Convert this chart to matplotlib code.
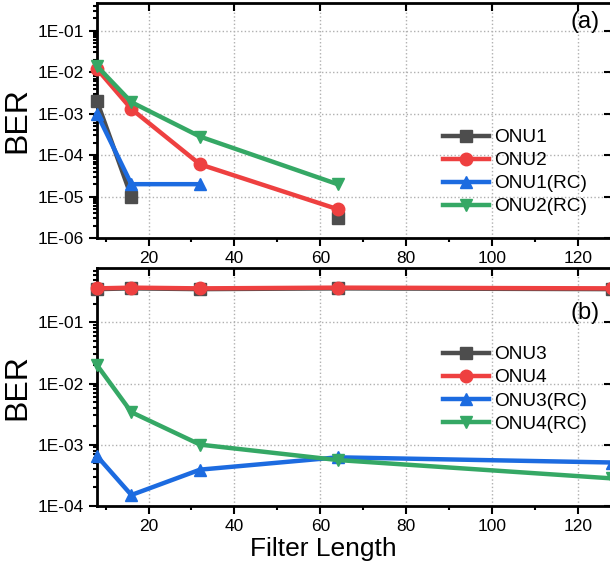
import numpy as np
import matplotlib.pyplot as plt
from matplotlib.ticker import FuncFormatter, LogLocator, MultipleLocator

plt.rcParams['font.family'] = ['Liberation Sans', 'DejaVu Sans']

filter_len = [8, 16, 32, 64, 128]

# panel (a)
onu1 = [2e-3, 1e-5, np.nan, 3e-6, np.nan]
onu2 = [1.2e-2, 1.3e-3, 6e-5, 5e-6, np.nan]
onu1_rc = [1e-3, 2e-5, 2e-5, np.nan, np.nan]
onu2_rc = [1.4e-2, 1.9e-3, 2.8e-4, 2e-5, np.nan]

# panel (b)
onu3 = [0.35, 0.36, 0.35, 0.36, 0.35]
onu4 = [0.36, 0.37, 0.36, 0.37, 0.36]
onu3_rc = [6.5e-4, 1.5e-4, 3.9e-4, 6.2e-4, 5.1e-4]
onu4_rc = [2e-2, 3.4e-3, 1e-3, 5.6e-4, 2.8e-4]

colors = ['#4d4d4d', '#ee4040', '#1c6be0', '#35a865']
markers = ['s', 'o', '^', 'v']

fig = plt.figure(figsize=(6.10, 5.67), dpi=100)
ax1 = fig.add_axes([0.159, 0.580, 0.845, 0.415])
ax2 = fig.add_axes([0.159, 0.108, 0.845, 0.419])


def sci(v, pos):
    e = int(round(np.log10(v)))
    return "1E-%02d" % (-e)


def style(ax, ymin, ymax):
    ax.set_yscale('log')
    ax.set_xlim(8, 128)
    ax.set_ylim(ymin, ymax)
    ax.xaxis.set_major_locator(MultipleLocator(20))
    ax.xaxis.set_minor_locator(MultipleLocator(10))
    ax.yaxis.set_major_locator(LogLocator(base=10, numticks=20))
    ax.yaxis.set_minor_locator(LogLocator(base=10, subs=np.arange(2, 10), numticks=20))
    ax.yaxis.set_major_formatter(FuncFormatter(sci))
    ax.yaxis.set_minor_formatter(FuncFormatter(lambda v, p: ""))
    ax.tick_params(axis='both', which='both', labelsize=12.5, width=1.5, direction='out')
    ax.tick_params(axis='both', which='major', length=6)
    ax.tick_params(axis='both', which='minor', length=3)
    ax.tick_params(axis='x', which='major', top=True)
    ax.tick_params(axis='y', which='major', right=True)
    # top / right ticks point inward, major only
    for t in ax.xaxis.get_major_ticks():
        t.tick2line.set_marker(3)
    for t in ax.yaxis.get_major_ticks():
        t.tick2line.set_marker(0)
    for s in ax.spines.values():
        s.set_linewidth(2)
    ax.grid(True, which='major', linestyle=':', color='#b0b0b0', linewidth=1)
    ax.set_ylabel('BER', fontsize=23)
    ax.yaxis.set_label_coords(-0.125, 0.5)


def draw(ax, series, labels):
    for y, lab, c, m in zip(series, labels, colors, markers):
        ax.plot(filter_len, y, color=c, marker=m, markersize=9, linewidth=3.2,
                label=lab, clip_on=False, zorder=3)


draw(ax1, [onu1, onu2, onu1_rc, onu2_rc], ['ONU1', 'ONU2', 'ONU1(RC)', 'ONU2(RC)'])
draw(ax2, [onu3, onu4, onu3_rc, onu4_rc], ['ONU3', 'ONU4', 'ONU3(RC)', 'ONU4(RC)'])

style(ax1, 1e-6, 0.47)
style(ax2, 1e-4, 0.77)
ax2.set_xlabel('Filter Length', fontsize=19)
ax2.xaxis.set_label_coords(0.44, -0.13)

ax1.text(0.975, 0.92, '(a)', transform=ax1.transAxes, fontsize=17, ha='right', va='center')
ax2.text(0.975, 0.81, '(b)', transform=ax2.transAxes, fontsize=17, ha='right', va='center')

for ax, yc in [(ax1, 0.28), (ax2, 0.49)]:
    ax.legend(loc='center left', bbox_to_anchor=(0.672, yc), frameon=False, fontsize=13.7,
              handlelength=2.4, handletextpad=0.25, labelspacing=0.3, borderaxespad=0,
              borderpad=0)

fig.savefig('out.png', dpi=100)
